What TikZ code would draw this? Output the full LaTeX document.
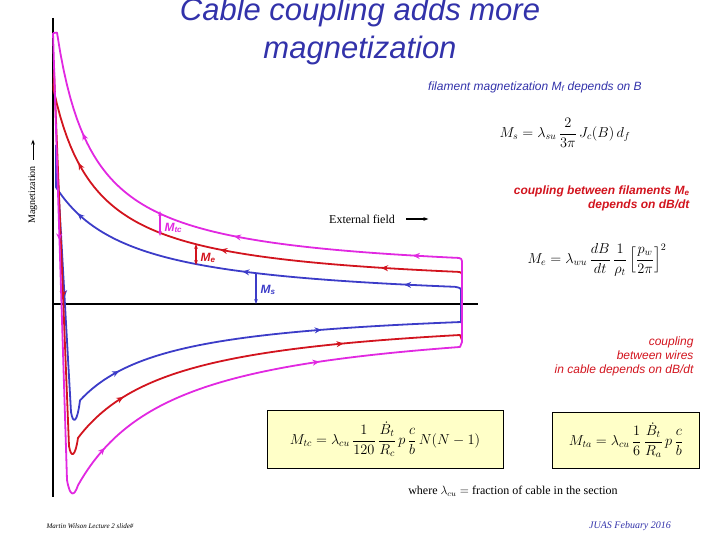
\documentclass[tikz,border=0pt]{standalone}
\usepackage{fontspec}
\usepackage{amsmath}
\setmainfont{Liberation Serif}
\setsansfont{Liberation Sans}
\usetikzlibrary{arrows.meta,decorations.markings}
\definecolor{tblue}{RGB}{50,50,170}
\definecolor{cblue}{RGB}{60,60,200}
\definecolor{cred}{RGB}{210,20,30}
\definecolor{cmag}{RGB}{225,40,225}
\definecolor{boxy}{RGB}{255,255,200}
\tikzset{
 curve/.style={line width=1.8pt,line join=round},
 arl/.style={postaction={decorate,decoration={markings,mark=at position #1 with {\arrow{Stealth[length=7pt,width=6pt]}}}}},
 fbox/.style={draw=black,fill=boxy,line width=0.8pt,inner sep=4pt},
 dim/.style={line width=1.5pt,{Stealth[length=5pt]}-{Stealth[length=5pt]}}
}
\begin{document}
\begin{tikzpicture}[x=1pt,y=-1pt]
\useasboundingbox (0,0) rectangle (720,540);
% axes
\draw[line width=1.2pt] (53,18) -- (53,497);
\draw[line width=1.2pt] (53,304) -- (478,304);
% blue
\draw[curve,cblue,arl=0.18,arl=0.5,arl=0.85] (461,323) -- (461,292) .. controls (461,288) .. (455,{305.8-9015/475}) -- plot[domain=455:56,samples=120] (\x,{305.8-9015/(\x+20)}) -- (56,145);
\draw[curve,cblue,arl=0.22,arl=0.5,arl=0.8] (56,145) -- (71,412) .. controls (73,424) and (77,424) .. (80,{303.5+8718/90}) -- plot[domain=80:460,samples=120] (\x,{303.5+8718/(\x+10)});
% red
\draw[curve,cred,arl=0.2,arl=0.5,arl=0.82] (462,300) -- (462,277) .. controls (462,272) .. (455,{291.5-8797/445}) -- plot[domain=455:53.5,samples=120] (\x,{291.5-8797/(\x-10)}) -- (54,70);
\draw[curve,cred,arl=0.27,arl=0.55,arl=0.82] (54,70) -- (69,446) .. controls (71,458) and (75,458) .. (78,{308.6+12673/98}) -- plot[domain=78:460,samples=120] (\x,{308.6+12673/(\x+20)}) -- (462,340) -- (462,310);
% magenta
\draw[curve,cmag,arl=0.2,arl=0.5,arl=0.82] (462,330) -- (462,265) .. controls (462,258) .. (455,{278.7-9105/435}) -- plot[domain=455:57,samples=120] (\x,{278.7-9105/(\x-20)}) -- (53,33);
\draw[curve,cmag,arl=0.22,arl=0.55,arl=0.8] (53,33) -- (67,480) .. controls (70,497) and (74,497) .. (78,485.3) -- plot[domain=78:460,samples=120] (\x,{311.5+100*(170.3/(\x+20))}) -- (462,342) -- (462,300);
% dimension arrows
\coordinate (t1) at (160,211); \coordinate (t2) at (160,236);
\draw[dim,cmag] (t1) -- (t2);
\node[cmag,font=\sffamily\itshape\bfseries\large,anchor=west] (ltc) at (161,228) {M\textsubscript{tc}};
\coordinate (e1) at (196,244); \coordinate (e2) at (196,265);
\draw[dim,cred] (e1) -- (e2);
\node[cred,font=\sffamily\itshape\bfseries\large,anchor=west] (le) at (197,258) {M\textsubscript{e}};
\coordinate (s1) at (256,273); \coordinate (s2) at (256,304);
\draw[line width=1.5pt,cblue,-{Stealth[length=5pt]}] (s1) -- (s2);
\node[cblue,font=\sffamily\itshape\bfseries\large,anchor=west] (ls) at (257,290) {M\textsubscript{s}};
% texts
\node[tblue,font=\sffamily\itshape\fontsize{31}{38}\selectfont,align=center] (title) at (360,31) {Cable coupling adds more\\magnetization};
\node[tblue,font=\sffamily\itshape\large] (fil) at (535,87) {filament magnetization M\textsubscript{f} depends on B};
\node[font=\Large] (fms) at (565,133) {$M_s=\lambda_{su}\,\dfrac{2}{3\pi}\,J_c(B)\,d_f$};
\node[cred,font=\sffamily\itshape\bfseries\large,align=right,anchor=east] (cf) at (693,198) {coupling between filaments M\textsubscript{e}\\depends on dB/dt};
\node[font=\Large] (fme) at (597,260) {$M_e=\lambda_{wu}\,\dfrac{dB}{dt}\,\dfrac{1}{\rho_t}\left[\dfrac{p_w}{2\pi}\right]^2$};
\node[cred,font=\sffamily\itshape\large,align=right,anchor=east] (cw) at (697,356) {coupling\\between wires\\in cable depends on dB/dt};
\node[font=\large] (ext) at (362,219) {External field};
\draw[line width=1.5pt,-{Stealth[length=5pt]}] (ext.east) ++(8,0) coordinate (xa) -- ++(22,0) coordinate (xb);
\node[rotate=90,font=\normalsize] (mag) at (33,195) {Magnetization};
\draw[line width=1pt,-{Stealth[length=5pt]}] (mag.east) ++(0,-3) coordinate (ma) -- ++(0,-20);
\node[fbox,minimum width=236pt,minimum height=58pt,font=\Large] (b1) at (385,439) {$M_{tc}=\lambda_{cu}\,\dfrac{1}{120}\,\dfrac{\dot B_t}{R_c}\,p\,\dfrac{c}{b}\,N(N-1)$};
\node[fbox,minimum width=147pt,minimum height=56pt,font=\Large] (b2) at (626,440) {$M_{ta}=\lambda_{cu}\,\dfrac{1}{6}\,\dfrac{\dot B_t}{R_a}\,p\,\dfrac{c}{b}$};
\node[font=\large] (where) at (513,491) {where $\lambda_{cu}=$ fraction of cable in the section};
\node[font=\itshape\fontsize{7}{8}\selectfont] (f1) at (90,526) {Martin Wilson Lecture 2 slide\#};
\node[tblue,font=\itshape\normalsize] (f2) at (630,526) {JUAS Febuary 2016};
\end{tikzpicture}
\end{document}
